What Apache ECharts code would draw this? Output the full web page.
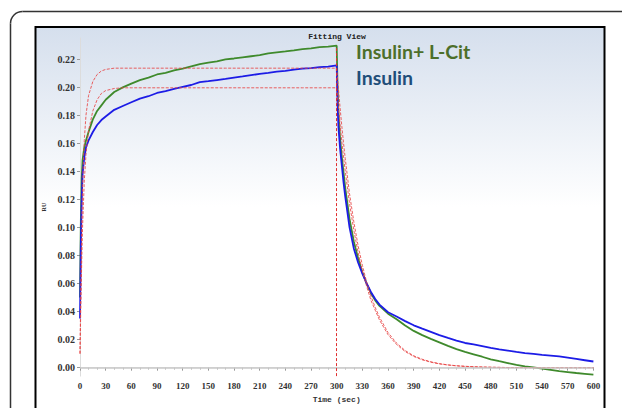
<!DOCTYPE html>
<html>
<head>
<meta charset="utf-8">
<script src="https://cdn.jsdelivr.net/npm/echarts@6/dist/echarts.min.js"></script>
<style>
  html, body { margin: 0; padding: 0; background: #fff; }
  #chart { width: 622px; height: 408px; }
</style>
</head>
<body>
<div id="chart"></div>
<script>
// time points (sec), shared by every curve
const times = [
  0, 1, 2, 3, 5, 7, 10, 15, 20, 25, 30,
  40, 50, 60, 70, 80, 90, 100, 110, 120, 130, 140, 150, 160, 170, 180, 190, 200,
  210, 220, 230, 240, 250, 260, 270, 280, 290, 300,
  301, 302, 304, 306, 308, 310,
  315, 320, 325, 330, 335, 340, 345, 350,
  360, 370, 380, 390, 400, 410, 420, 430, 440, 450, 460, 470, 480, 490, 500,
  510, 520, 530, 540, 550, 560, 570, 580, 590, 600
]

// Insulin+ L-Cit (green)
const insulinLCit = [
  0.050, 0.105, 0.135, 0.148, 0.157, 0.162, 0.168, 0.177, 0.183, 0.187, 0.191,
  0.1965, 0.1998, 0.2025, 0.2050, 0.2068, 0.2090, 0.2102, 0.2120, 0.2132, 0.2148, 0.2163, 0.2174, 0.2183, 0.2197, 0.2204, 0.2212, 0.2220,
  0.2228, 0.2240, 0.2247, 0.2254, 0.2262, 0.2271, 0.2276, 0.2285, 0.2288, 0.2295,
  0.200, 0.182, 0.163, 0.150, 0.139, 0.128,
  0.106, 0.090, 0.078, 0.068, 0.060, 0.053, 0.048, 0.044,
  0.0385, 0.0345, 0.0300, 0.0262, 0.0232, 0.0205, 0.0180, 0.0155, 0.0132, 0.0112, 0.0095, 0.0078, 0.0060, 0.0046, 0.0033,
  0.0020, 0.0010, 0.0002, -0.0007, -0.0015, -0.0025, -0.0031, -0.0038, -0.0044, -0.0050
]

// Insulin (blue)
const insulin = [
  0.035, 0.090, 0.120, 0.138, 0.150, 0.157, 0.162, 0.168, 0.173, 0.1765, 0.1790,
  0.1838, 0.1865, 0.1892, 0.1918, 0.1935, 0.1958, 0.1972, 0.1988, 0.2002, 0.2015, 0.2035, 0.2042, 0.2050, 0.2058, 0.2068, 0.2076, 0.2085,
  0.2094, 0.2101, 0.2110, 0.2115, 0.2124, 0.2131, 0.2136, 0.2142, 0.2146, 0.2155,
  0.188, 0.172, 0.156, 0.144, 0.132, 0.122,
  0.100, 0.085, 0.075, 0.067, 0.060, 0.054, 0.049, 0.045,
  0.0395, 0.0365, 0.0332, 0.0302, 0.0278, 0.0255, 0.0232, 0.0212, 0.0193, 0.0176, 0.0166, 0.0154, 0.0141, 0.0131, 0.0122,
  0.0112, 0.0104, 0.0098, 0.0091, 0.0086, 0.0080, 0.0071, 0.0062, 0.0053, 0.0044
]

// fitted curves (red)
const fitUpper = [
  0.010, 0.060, 0.100, 0.130, 0.162, 0.180, 0.194, 0.204, 0.209, 0.2115, 0.2126,
  0.2135, 0.2135, 0.2135, 0.2135, 0.2135, 0.2135, 0.2135, 0.2135, 0.2135, 0.2135, 0.2135, 0.2135, 0.2135, 0.2135, 0.2135, 0.2135, 0.2135,
  0.2135, 0.2135, 0.2135, 0.2135, 0.2135, 0.2135, 0.2135, 0.2135, 0.2135, 0.2135,
  0.206, 0.199, 0.185, 0.172, 0.160, 0.149,
  0.124, 0.104, 0.087, 0.073, 0.061, 0.051, 0.043, 0.036,
  0.0250, 0.0175, 0.0122, 0.0085, 0.0060, 0.0042, 0.0029, 0.0020, 0.0014, 0.0010, 0.0007, 0.0005, 0.0003, 0.0002, 0.0001,
  0.0001, 0, 0, 0, 0, 0, 0, 0, 0, 0
]

const fitLower = [
  0.010, 0.045, 0.075, 0.100, 0.133, 0.152, 0.169, 0.183, 0.191, 0.1955, 0.1975,
  0.1990, 0.1995, 0.1995, 0.1995, 0.1995, 0.1995, 0.1995, 0.1995, 0.1995, 0.1995, 0.1995, 0.1995, 0.1995, 0.1995, 0.1995, 0.1995, 0.1995,
  0.1995, 0.1995, 0.1995, 0.1995, 0.1995, 0.1995, 0.1995, 0.1995, 0.1995, 0.1995,
  0.193, 0.186, 0.173, 0.161, 0.150, 0.140,
  0.117, 0.098, 0.082, 0.069, 0.058, 0.048, 0.041, 0.034,
  0.0235, 0.0165, 0.0115, 0.0080, 0.0056, 0.0039, 0.0027, 0.0019, 0.0013, 0.0009, 0.0006, 0.0004, 0.0003, 0.0002, 0.0001,
  0.0001, 0, 0, 0, 0, 0, 0, 0, 0, 0
]

const yTicks = [0, 0.02, 0.04, 0.06, 0.08, 0.10, 0.12, 0.14, 0.16, 0.18, 0.20, 0.22]
const injectionEnd = 300

const pairs = (arr) => times.map((t, i) => [t, arr[i]])

const chart = echarts.init(document.getElementById('chart'), null, { renderer: 'svg' })

const labelFont = {
  fontFamily: 'Liberation Serif',
  fontWeight: 'bold',
  fontSize: 9,
  color: '#333',
}

const fitSeries = (name, arr) => ({
  name: name,
  type: 'line',
  data: pairs(arr),
  showSymbol: false,
  lineStyle: { color: '#e84545', width: 1, type: [3, 1.5], opacity: 0.85 },
  z: 3,
})

const cardStroke = { stroke: '#333', lineWidth: 1.5, fill: 'none' }

chart.setOption({
  animation: false,
  graphic: [
    // outer card border, only its top-left corner is on screen
    { type: 'line', z: -20, shape: { x1: 10.5, y1: 23.5, x2: 10.5, y2: 420 }, style: cardStroke },
    { type: 'line', z: -20, shape: { x1: 22.5, y1: 11.5, x2: 640, y2: 11.5 }, style: cardStroke },
    {
      type: 'arc',
      z: -20,
      shape: { cx: 22.5, cy: 23.5, r: 12, startAngle: Math.PI, endAngle: Math.PI * 1.5, clockwise: true },
      style: cardStroke,
    },
    // black frame with the pale blue fade
    {
      type: 'rect',
      z: -19,
      shape: { x: 35.5, y: 27, width: 569, height: 400 },
      style: {
        fill: new echarts.graphic.LinearGradient(0, 0, 0, 1, [
          { offset: 0, color: '#d5dfed' },
          { offset: 0.45, color: '#ffffff' },
          { offset: 1, color: '#ffffff' },
        ]),
        stroke: '#000',
        lineWidth: 2,
      },
    },
    {
      type: 'text',
      z: 100,
      x: 337,
      y: 36,
      style: {
        text: 'Fitting View',
        font: 'bold 8px "Liberation Mono"',
        fill: '#222',
        align: 'center',
        verticalAlign: 'middle',
      },
    },
    {
      type: 'text',
      z: 100,
      x: 356,
      y: 51,
      style: {
        text: 'Insulin+ L-Cit',
        font: 'bold 19.5px Lato',
        fill: '#4d6f2a',
        align: 'left',
        verticalAlign: 'middle',
      },
    },
    {
      type: 'text',
      z: 100,
      x: 356,
      y: 77,
      style: {
        text: 'Insulin',
        font: 'bold 19.5px Lato',
        fill: '#1f4e79',
        align: 'left',
        verticalAlign: 'middle',
      },
    },
  ],
  grid: { left: 80, right: 28.6, top: 38, bottom: 26 },
  xAxis: {
    type: 'value',
    min: 0,
    max: 600,
    interval: 30,
    name: 'Time (sec)',
    nameLocation: 'middle',
    nameGap: 15,
    nameTextStyle: { fontFamily: 'Liberation Mono', fontWeight: 'bold', fontSize: 8, color: '#333' },
    axisLine: { show: true, lineStyle: { color: '#e2e2e2', width: 1 } },
    axisTick: { show: true, length: 3, lineStyle: { color: '#999' } },
    minorTick: { show: true, splitNumber: 3, length: 2, lineStyle: { color: '#bbb' } },
    axisLabel: { ...labelFont, margin: 5 },
    splitLine: { show: false },
  },
  yAxis: {
    type: 'value',
    min: -0.006,
    max: 0.235,
    name: 'RU',
    nameLocation: 'middle',
    nameRotate: 90,
    nameGap: 28,
    nameTextStyle: { fontFamily: 'Liberation Serif', fontWeight: 'bold', fontSize: 6, color: '#333' },
    axisLine: { show: true, lineStyle: { color: '#dcdcdc', width: 1 } },
    axisTick: { show: true, length: 3, customValues: yTicks, lineStyle: { color: '#999' } },
    axisLabel: {
      ...labelFont,
      fontSize: 10,
      margin: 5,
      customValues: yTicks,
      formatter: (v) => v.toFixed(2),
    },
    splitLine: { show: false },
  },
  series: [
    {
      name: 'Insulin+ L-Cit',
      type: 'line',
      data: pairs(insulinLCit),
      showSymbol: false,
      lineStyle: { color: '#3f8a2c', width: 1.8 },
      z: 2,
      markLine: {
        silent: true,
        symbol: 'none',
        label: { show: false },
        data: [
          [
            { coord: [0, 0], lineStyle: { color: '#c8c8c8', width: 1.5, type: 'solid' } },
            { coord: [600, 0] },
          ],
          [
            { coord: [injectionEnd, -0.006], lineStyle: { color: '#e03030', width: 1, type: [3, 2] } },
            { coord: [injectionEnd, 0.229] },
          ],
        ],
      },
    },
    {
      name: 'Insulin',
      type: 'line',
      data: pairs(insulin),
      showSymbol: false,
      lineStyle: { color: '#1c1ce6', width: 1.8 },
      z: 2,
    },
    fitSeries('Fit upper', fitUpper),
    fitSeries('Fit lower', fitLower),
  ],
})
</script>
</body>
</html>
